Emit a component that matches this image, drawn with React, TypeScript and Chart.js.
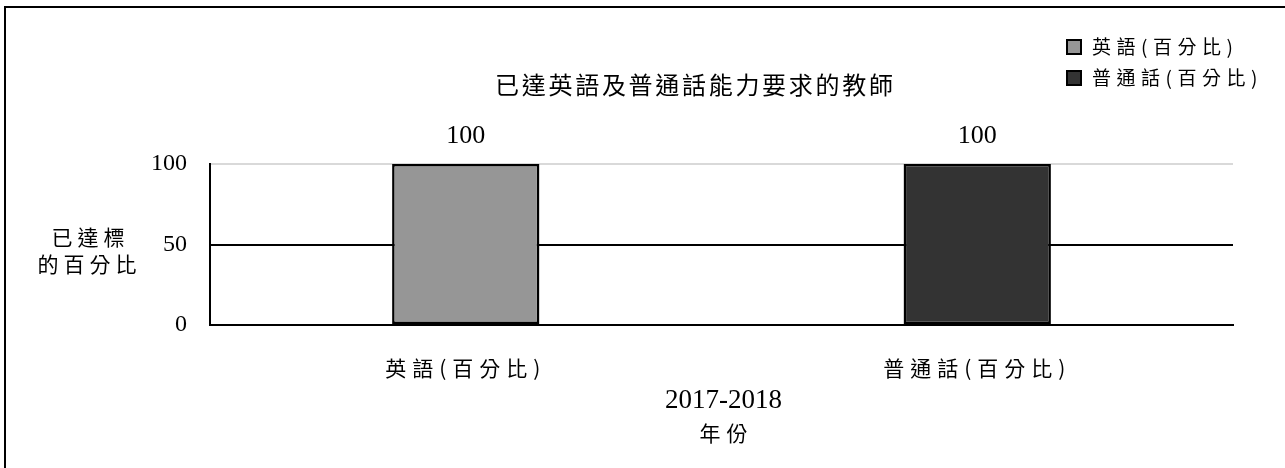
import React, { useEffect, useRef } from 'react';
import { Chart, registerables } from 'chart.js';

Chart.register(...registerables);

// ---- data ----
const categories = ['英語(百分比)', '普通話(百分比)'];
const seriesNames = ['英語(百分比)', '普通話(百分比)'];
const englishValues = [100, null];
const putonghuaValues = [null, 100];
const seriesColors = ['#969696', '#333333'];
const yTickValues = [0, 50, 100];
const chartTitle = '已達英語及普通話能力要求的教師';
const yAxisTitle = ['已達標', '的百分比'];
const xAxisTitle = ['2017-2018', '年份'];

const CJK = '"Noto Sans CJK TC", "Noto Sans CJK SC", "Noto Sans CJK JP", sans-serif';
const SERIF = '"Liberation Serif", "Times New Roman", "DejaVu Serif", serif';

function drawSpacedText(
  ctx: CanvasRenderingContext2D,
  text: string,
  x: number,
  y: number,
  font: string,
  spacing: number,
  align: 'left' | 'center'
) {
  ctx.save();
  ctx.font = font;
  ctx.fillStyle = '#000';
  ctx.textBaseline = 'middle';
  ctx.textAlign = 'left';
  const chars = Array.from(text);
  if (spacing === 0) {
    const w = ctx.measureText(text).width;
    ctx.fillText(text, align === 'center' ? x - w / 2 : x, y);
  } else {
    const widths = chars.map((c) => ctx.measureText(c).width);
    const total = widths.reduce((a, b) => a + b, 0) + spacing * (chars.length - 1);
    let cx = align === 'center' ? x - total / 2 : x;
    chars.forEach((c, i) => {
      ctx.fillText(c, cx, y);
      cx += widths[i] + spacing;
    });
  }
  ctx.restore();
}

const textPlugin = {
  id: 'customText',
  beforeDraw(chart: any) {
    const xs: any = chart.scales.x;
    if (xs && !xs.__spaced) {
      const orig = xs.drawLabels.bind(xs);
      xs.drawLabels = (area: any) => {
        const c: any = xs.ctx;
        c.save();
        c.letterSpacing = '6px';
        orig(area);
        c.restore();
      };
      xs.__spaced = true;
    }
  },
  afterDraw(chart: any) {
    const ctx: CanvasRenderingContext2D = chart.ctx;
    // title
    drawSpacedText(ctx, chartTitle, 694, 85, `24px ${CJK}`, 2.7, 'center');
    // legend
    chart.data.datasets.forEach((ds: any, i: number) => {
      const y = 47 + i * 31;
      ctx.save();
      ctx.fillStyle = '#000';
      ctx.fillRect(1066, y - 8, 16, 16);
      ctx.fillStyle = ds.backgroundColor;
      ctx.fillRect(1068, y - 6, 12, 12);
      ctx.restore();
      drawSpacedText(ctx, ds.label, 1092, y, `19px ${CJK}`, 5.5, 'left');
    });
    // y axis title (horizontal, two lines)
    drawSpacedText(ctx, yAxisTitle[0], 88, 237, `21px ${CJK}`, 5, 'center');
    drawSpacedText(ctx, yAxisTitle[1], 87, 264, `21px ${CJK}`, 5, 'center');
    // x axis title
    const area = chart.chartArea;
    const cx = (area.left + area.right) / 2 + 2;
    drawSpacedText(ctx, xAxisTitle[0], cx, 401, `27px ${SERIF}`, 0, 'center');
    drawSpacedText(ctx, xAxisTitle[1], cx, 433, `21px ${CJK}`, 6, 'center');
    // value labels
    chart.data.datasets.forEach((ds: any, i: number) => {
      const meta = chart.getDatasetMeta(i);
      meta.data.forEach((el: any, j: number) => {
        const v = ds.data[j];
        if (v === null || v === undefined) return;
        drawSpacedText(ctx, String(v), el.x, el.y - 28, `26px ${SERIF}`, 0, 'center');
      });
    });
  },
};

export default function App() {
  const ref = useRef<HTMLCanvasElement>(null);

  useEffect(() => {
    const canvas = ref.current;
    if (!canvas) return;
    const chart = new Chart(canvas, {
      type: 'bar',
      data: {
        labels: categories,
        datasets: [
          {
            label: seriesNames[0],
            data: englishValues,
            backgroundColor: seriesColors[0],
            borderColor: '#000',
            borderWidth: 2.5,
            borderSkipped: false,
            inflateAmount: 0,
            skipNull: true,
            barPercentage: 0.288,
            categoryPercentage: 1,
          },
          {
            label: seriesNames[1],
            data: putonghuaValues,
            backgroundColor: seriesColors[1],
            borderColor: '#000',
            borderWidth: 2.5,
            borderSkipped: false,
            inflateAmount: 0,
            skipNull: true,
            barPercentage: 0.288,
            categoryPercentage: 1,
          },
        ],
      } as any,
      options: {
        responsive: false,
        animation: false,
        devicePixelRatio: 1,
        events: [],
        layout: { padding: { top: 164, right: 52, left: 0, bottom: 0 } },
        plugins: {
          legend: { display: false },
          title: { display: false },
          tooltip: { enabled: false },
        },
        scales: {
          x: {
            grid: { display: false, drawTicks: false },
            border: { display: true, color: '#000', width: 2 },
            ticks: { color: '#000', font: { family: CJK, size: 21 }, padding: 30 },
            afterFit: (s: any) => {
              s.height = 143;
            },
          },
          y: {
            min: 0,
            max: 100,
            afterBuildTicks: (s: any) => {
              s.ticks = yTickValues.map((v) => ({ value: v }));
            },
            grid: {
              color: (c: any) => (c.tick && c.tick.value === 100 ? '#d9d9d9' : '#000'),
              lineWidth: 2,
              drawTicks: false,
            },
            border: { display: true, color: '#000', width: 2 },
            ticks: { color: '#000', font: { family: SERIF, size: 24 }, padding: 23 },
            afterFit: (s: any) => {
              s.width = 210;
            },
          },
        },
      } as any,
      plugins: [textPlugin as any],
    });
    return () => chart.destroy();
  }, []);

  return (
    <div
      style={{
        position: 'fixed',
        left: 0,
        top: 0,
        width: 1285,
        height: 468,
        overflow: 'hidden',
        background: '#fff',
      }}
    >
      <canvas ref={ref} width={1285} height={468} style={{ display: 'block', width: 1285, height: 468 }} />
      <div
        style={{
          position: 'absolute',
          left: 4,
          top: 6,
          width: 1400,
          height: 600,
          borderTop: '2px solid #000',
          borderLeft: '2px solid #000',
          pointerEvents: 'none',
        }}
      />
    </div>
  );
}
